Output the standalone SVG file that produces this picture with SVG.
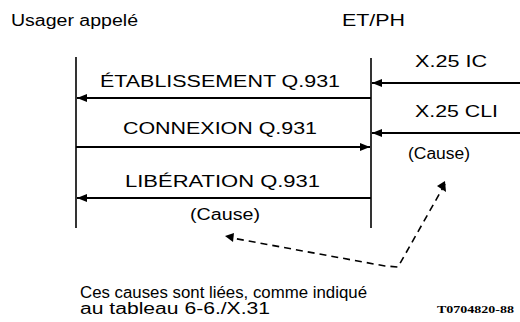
<svg xmlns="http://www.w3.org/2000/svg" width="520" height="322" viewBox="0 0 520 322">
<defs>
<marker id="ah" viewBox="0 0 10 8" refX="10" refY="4" markerWidth="10" markerHeight="8" markerUnits="userSpaceOnUse" orient="auto">
<path d="M0,0 L10,4 L0,8 Z" fill="#000"/>
</marker>
</defs>
<style>
text{font-family:"Liberation Sans",Arial,sans-serif;font-size:16px;fill:#000}
.life{stroke:#000;stroke-width:1.6;fill:none}
.msg{stroke:#000;stroke-width:1.8;fill:none;marker-end:url(#ah)}
.dash{stroke:#000;stroke-width:1.6;fill:none;stroke-dasharray:7,5}
.code{font-family:"Liberation Serif","Times New Roman",serif;font-size:11px;font-weight:bold}
</style>
<rect width="520" height="322" fill="#fff"/>
<g id="usager">
<text x="11" y="26" textLength="127" lengthAdjust="spacingAndGlyphs">Usager appelé</text>
<line class="life" x1="76" y1="57" x2="76" y2="228"/>
</g>
<g id="etph">
<text x="342" y="26" textLength="63" lengthAdjust="spacingAndGlyphs">ET/PH</text>
<line class="life" x1="371" y1="58" x2="371" y2="228"/>
</g>
<g id="connectors">
<line class="msg" x1="371" y1="98" x2="77" y2="98"/>
<line class="msg" x1="76" y1="147" x2="370" y2="147"/>
<line class="msg" x1="371" y1="198" x2="77" y2="198"/>
<line class="msg" x1="520" y1="83" x2="372" y2="83"/>
<line class="msg" x1="520" y1="133" x2="372" y2="133"/>
<polyline class="dash" points="445,184 398,267 385,266 232,238"/>
<path d="M445,181 L446,192 L437,186 Z" fill="#000"/>
<path d="M225,236 L234,233 L233,242 Z" fill="#000"/>
</g>
<g id="labels">
<text x="100" y="87" textLength="240" lengthAdjust="spacingAndGlyphs">ÉTABLISSEMENT Q.931</text>
<text x="123" y="134" textLength="194" lengthAdjust="spacingAndGlyphs">CONNEXION Q.931</text>
<text x="125" y="187" textLength="195" lengthAdjust="spacingAndGlyphs">LIBÉRATION Q.931</text>
<text x="190" y="220" textLength="70" lengthAdjust="spacingAndGlyphs">(Cause)</text>
<text x="415" y="67" textLength="72" lengthAdjust="spacingAndGlyphs">X.25 IC</text>
<text x="415" y="117" textLength="83" lengthAdjust="spacingAndGlyphs">X.25 CLI</text>
<text x="408" y="159" textLength="62" lengthAdjust="spacingAndGlyphs">(Cause)</text>
</g>
<g id="note">
<text x="80" y="298" textLength="287" lengthAdjust="spacingAndGlyphs">Ces causes sont liées, comme indiqué</text>
<text x="80" y="314" textLength="190" lengthAdjust="spacingAndGlyphs">au tableau 6-6./X.31</text>
<text class="code" x="437" y="313" textLength="77" lengthAdjust="spacingAndGlyphs">T0704820-88</text>
</g>
</svg>
